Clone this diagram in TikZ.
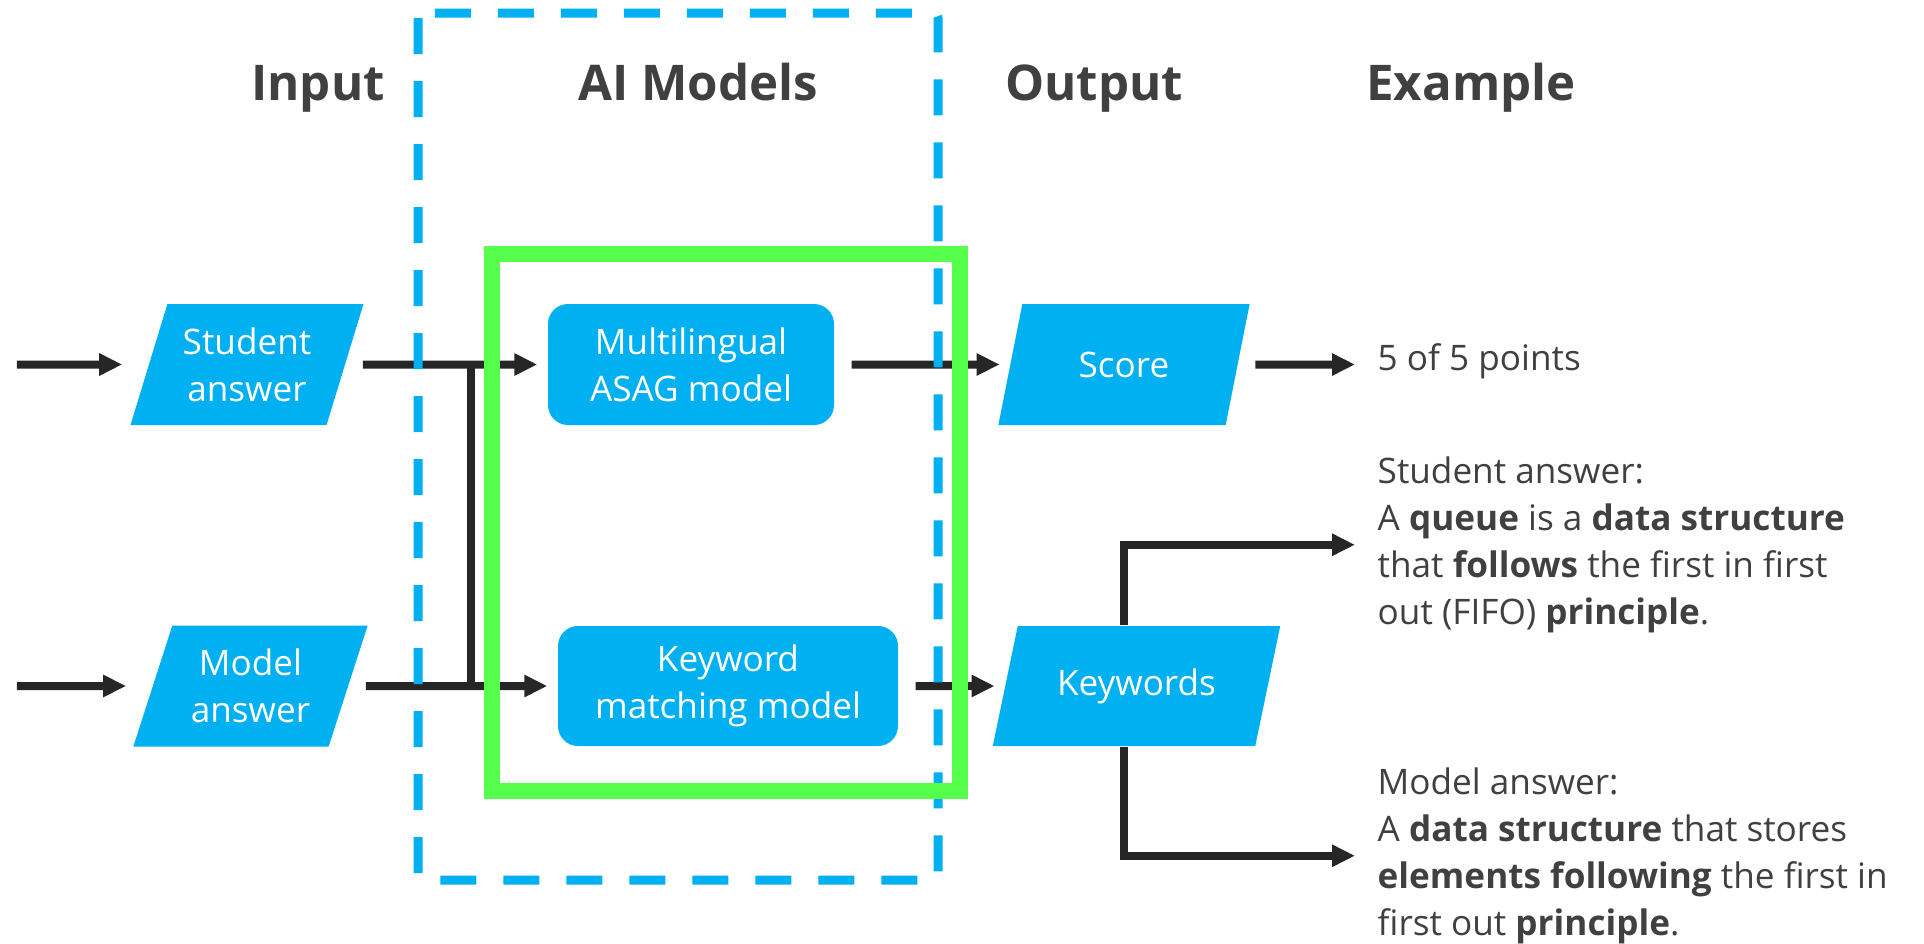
\documentclass[tikz,border=0pt]{standalone}
\usepackage{fontspec}
\setmainfont{Open Sans}
\usetikzlibrary{arrows.meta,shapes.geometric}
\definecolor{skyblue}{RGB}{0,176,240}
\definecolor{limegreen}{RGB}{85,255,76}
\definecolor{darkline}{RGB}{38,38,38}
\definecolor{txtgray}{RGB}{64,64,64}

\begin{document}
\begin{tikzpicture}[
          font=\fontsize{10pt}{13.3pt}\selectfont,
          line/.style={draw=darkline, line width=0.08cm},
          arr/.style={line, -{Triangle[length=0.23cm,width=0.21cm]}, shorten >=0.1cm},
          link/.style={arr, shorten <=0.17cm},
          io/.style={trapezium, trapezium stretches=true, trapezium left angle=68,
                     trapezium right angle=112, fill=skyblue, text=white, align=center,
                     inner sep=0pt, minimum height=1.21cm},
          model/.style={rectangle, rounded corners=0.2cm, fill=skyblue, text=white,
                        align=center, minimum height=1.21cm},
          head/.style={font=\fontsize{14pt}{17pt}\selectfont\bfseries, text=txtgray, anchor=base},
          note/.style={text=txtgray, align=left, anchor=base west, inner xsep=0.12cm, inner ysep=0pt}
        ]
        \useasboundingbox (0,0) rectangle (19.24,-9.44);
        % column titles
        \node[head] (hin) at (3.18,-1.00) {Input};
        \node[head] (hai) at (6.98,-1.00) {AI Models};
        \node[head] (hout) at (10.94,-1.00) {Output};
        \node[head] (hex) at (14.71,-1.00) {Example};
        % shapes
        \node[io, minimum width=2.34cm] (sa) at (2.47,-3.645) {Student\\answer};
        \node[io, minimum width=2.35cm] (ma) at (2.505,-6.86) {Model\\answer};
        \node[model, minimum width=2.86cm] (asag) at (6.91,-3.645) {Multilingual\\ASAG model};
        \node[model, minimum width=3.40cm, minimum height=1.20cm] (kwm) at (7.28,-6.86) {Keyword\\matching model};
        \node[io, minimum width=2.52cm, trapezium left angle=67.5, trapezium right angle=112.5] (score) at (11.24,-3.645) {Score};
        \node[io, minimum width=2.89cm, minimum height=1.20cm, trapezium left angle=64.6, trapezium right angle=115.4] (kwd) at (11.365,-6.86) {Keywords};
        % example texts (base = last line)
        \node[note] (pts) at (13.65,-3.70) {5 of 5 points};
        \node[note] (stxt) at (13.65,-6.24) {Student answer:\\A \textbf{queue} is a \textbf{data structure}\\that \textbf{follows} the first in first\\out (FIFO) \textbf{principle}.};
        \node[note] (mtxt) at (13.65,-9.35) {Model answer:\\A \textbf{data structure} that stores\\\textbf{elements following} the first in\\first out \textbf{principle}.};
        \coordinate (in1) at (0.17,-3.645);
        \coordinate (in2) at (0.17,-6.86);
        \coordinate (jn) at (4.71,0);
        \coordinate (br) at (11.24,0);
        % connectors
        \draw[arr, shorten >=0.26cm] (in1) -- (sa);
        \draw[arr, shorten >=0.26cm] (in2) -- (ma);
        \draw[link] (sa) -- (asag);
        \draw[link] (ma) -- (kwm);
        \draw[line] (sa -| jn) -- (ma -| jn);
        \draw[link] (asag) -- (score);
        \draw[link] (kwm) -- (kwd);
        \draw[link] (score) -- (score -| pts.west);
        \draw[arr] (kwd.north -| br) |- (stxt.west);
        \draw[arr] (kwd.south -| br) |- (mtxt.west);
        % frames
        \draw[skyblue, line width=0.09cm, dash pattern=on 0.36cm off 0.27cm, rounded corners=0.05cm] (4.18,-0.13) rectangle (9.38,-8.80);
        \draw[limegreen, line width=0.16cm] (4.92,-2.54) rectangle (9.60,-7.91);
      \end{tikzpicture}
\end{document}
